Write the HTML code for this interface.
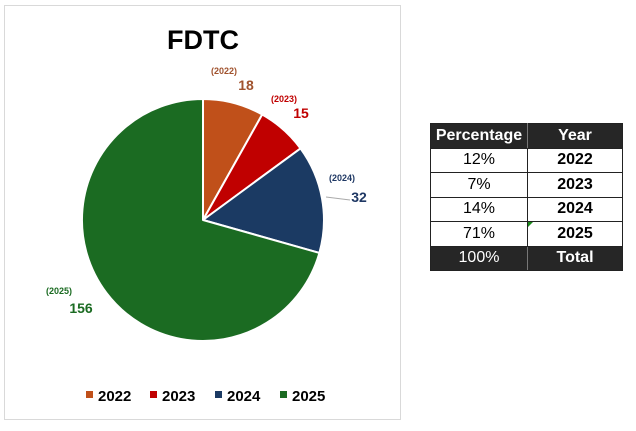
<!DOCTYPE html>
<html><head><style>
body{margin:0;width:636px;height:431px;background:#fff;font-family:"Liberation Sans",sans-serif;overflow:hidden;position:relative}
.frame{position:absolute;left:4px;top:5px;width:397px;height:415px;border:1px solid #d9d9d9;box-sizing:border-box}
table{position:absolute;left:430px;top:123px;border-collapse:collapse;font-size:16px}
td{border:1px solid #222;text-align:center;height:23.5px;padding:0}
.h td{background:#262626;color:#fff;font-weight:bold}
.t td{background:#262626;color:#fff}
.h td:first-child,.t td:first-child{border-right:1px solid #777}
</style></head><body>
<div class="frame"></div>
<svg width="636" height="431" style="position:absolute;left:0;top:0" font-family="Liberation Sans, sans-serif" font-weight="bold">
<text x="203" y="49" text-anchor="middle" font-size="27">FDTC</text>
<g stroke="#fff" stroke-width="2" stroke-linejoin="round">
<path d="M203,220 L203,99 A121,121 0 0 1 262.2,114.5 Z" fill="#c0501a"/>
<path d="M203,220 L262.2,114.5 A121,121 0 0 1 300.5,148.4 Z" fill="#c00000"/>
<path d="M203,220 L300.5,148.4 A121,121 0 0 1 319.4,252.9 Z" fill="#1b3a63"/>
<path d="M203,220 L319.4,252.9 A121,121 0 1 1 203,99 Z" fill="#1b6b22"/>
</g>
<text x="224" y="74" text-anchor="middle" font-size="9" fill="#a0522d">(2022)</text>
<text x="246" y="90" text-anchor="middle" font-size="14" fill="#a0522d">18</text>
<text x="284" y="102" text-anchor="middle" font-size="9" fill="#c00000">(2023)</text>
<text x="301" y="118" text-anchor="middle" font-size="14" fill="#c00000">15</text>
<text x="342" y="181" text-anchor="middle" font-size="9" fill="#1f3864">(2024)</text>
<text x="359" y="202" text-anchor="middle" font-size="14" fill="#1f3864">32</text>
<path d="M326,197 L350,200" stroke="#aaa" fill="none"/>
<text x="59" y="294" text-anchor="middle" font-size="9" fill="#1b6b22">(2025)</text>
<text x="81" y="313" text-anchor="middle" font-size="14" fill="#1b6b22">156</text>
<g font-size="15">
<rect x="86" y="391" width="7" height="7" fill="#c0501a"/><text x="98" y="401">2022</text>
<rect x="150" y="391" width="7" height="7" fill="#c00000"/><text x="162" y="401">2023</text>
<rect x="215" y="391" width="7" height="7" fill="#1b3a63"/><text x="227" y="401">2024</text>
<rect x="280" y="391" width="7" height="7" fill="#1b6b22"/><text x="292" y="401">2025</text>
</g>
</svg>
<table>
<tr class="h"><td style="width:96px">Percentage</td><td style="width:94px">Year</td></tr>
<tr><td>12%</td><td><b>2022</b></td></tr>
<tr><td>7%</td><td><b>2023</b></td></tr>
<tr><td>14%</td><td><b>2024</b></td></tr>
<tr><td>71%</td><td style="position:relative"><b>2025</b><span style="position:absolute;left:0;top:0;width:0;height:0;border-top:5px solid #1b8a1b;border-right:5px solid transparent"></span></td></tr>
<tr class="t"><td>100%</td><td><b>Total</b></td></tr>
</table>
</body></html>
